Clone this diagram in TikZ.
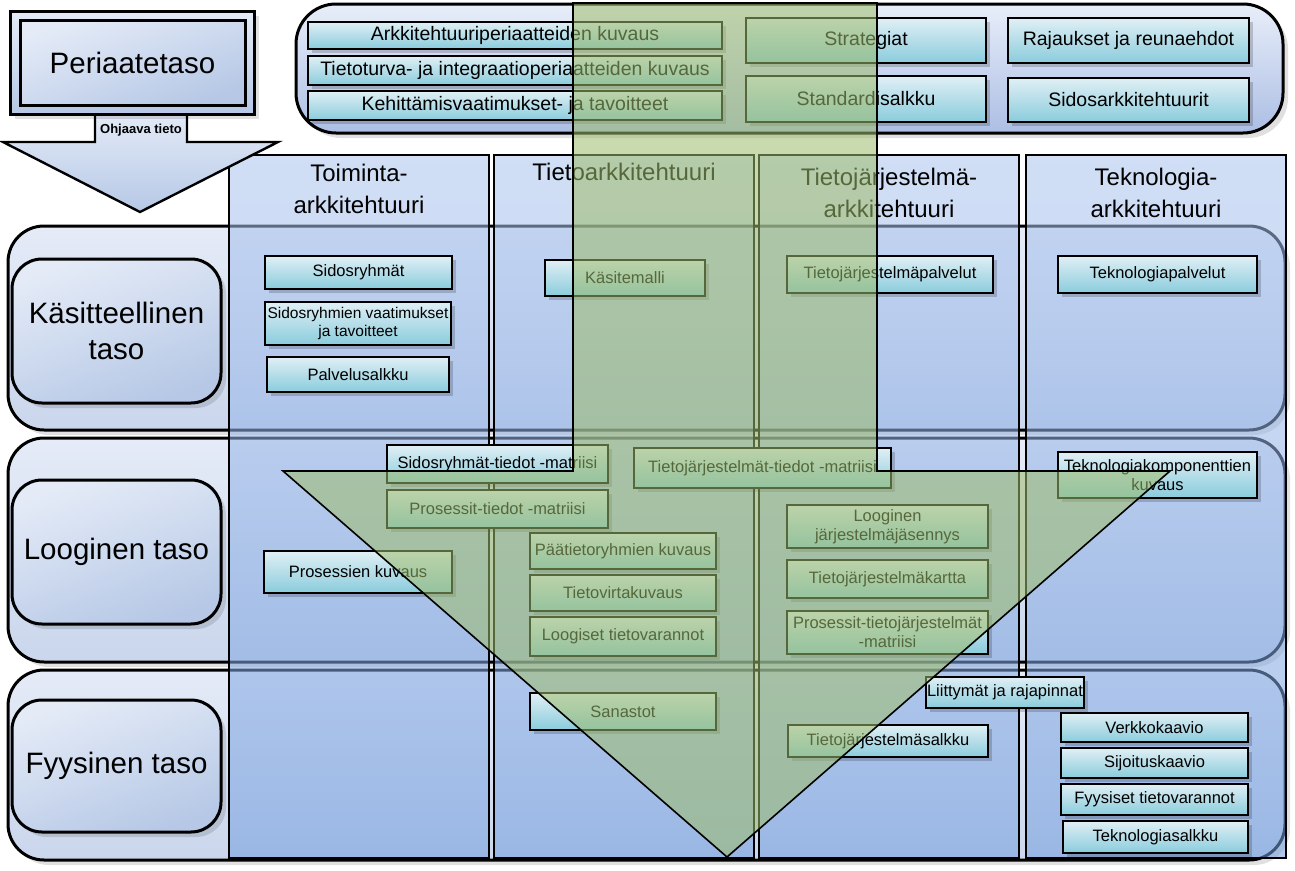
\documentclass[tikz,border=0pt]{standalone}
\usepackage{fontspec}
\setmainfont{Liberation Sans}
\usetikzlibrary{shadows}
\definecolor{bandT}{RGB}{229,235,247}
\definecolor{bandB}{RGB}{202,214,236}
\definecolor{colT}{RGB}{172,196,238}
\definecolor{colB}{RGB}{115,158,222}
\definecolor{cyT}{RGB}{224,239,245}
\definecolor{cyB}{RGB}{138,204,220}
\definecolor{lblT}{RGB}{228,235,247}
\definecolor{lblB}{RGB}{182,200,230}
\definecolor{topT}{RGB}{232,238,249}
\definecolor{topB}{RGB}{172,190,228}
\definecolor{grn}{RGB}{158,188,108}
\tikzset{
  cbox/.style={draw=black, line width=2.6pt, top color=cyT, bottom color=cyB,
    drop shadow={shadow xshift=4pt, shadow yshift=-4pt, opacity=0.18, fill=black},
    align=center, inner sep=1pt, font=\fontsize{16.5}{19}\selectfont},
  tbox/.style={cbox, font=\fontsize{19.5}{22}\selectfont},
  band/.style={draw=black, line width=3pt, rounded corners=36pt, top color=bandT, bottom color=bandB,
    drop shadow={shadow xshift=5pt, shadow yshift=-5pt, opacity=0.12, fill=black}},
  lbl/.style={draw=black, line width=3pt, rounded corners=30pt, top color=lblT, bottom color=lblB,
    shading angle=20, align=center,
    drop shadow={shadow xshift=5pt, shadow yshift=-5pt, opacity=0.12, fill=black},
    font=\fontsize{29.5}{36}\selectfont},
  colrect/.style={draw=black, line width=2.6pt, top color=colT, bottom color=colB, fill opacity=0.55, draw opacity=1},
  hdr/.style={align=center, font=\fontsize{24}{32}\selectfont},
  garrow/.style={draw=black, line width=1.6pt, fill=grn, fill opacity=0.55, draw opacity=1},
  barrow/.style={draw=black, line width=2.4pt, top color=lblT, bottom color=lblB},
}
\newcommand\abox[7][cbox]{\node[#1,minimum width={(#5-#3)*1pt},minimum height={(#6-#4)*1pt}] (#2) at ({(#3+#5)/2},{(#4+#6)/2}) {#7};}
\begin{document}
\begin{tikzpicture}[x=1pt,y=-1pt]
\useasboundingbox (0,0) rectangle (1295,870);
\fill[white] (0,0) rectangle (1295,870);

% top band
\path[draw=black, line width=3pt, rounded corners=40pt, top color=topT, bottom color=topB,
  drop shadow={shadow xshift=5pt, shadow yshift=-5pt, opacity=0.12, fill=black}] (296,4) rectangle (1283,133);
\abox[tbox]{p1}{308}{22}{722}{49}{Arkkitehtuuriperiaatteiden kuvaus}
\abox[tbox]{p2}{308}{56}{722}{85}{Tietoturva- ja integraatioperiaatteiden kuvaus}
\abox[tbox]{p3}{308}{91}{722}{120}{Kehittämisvaatimukset- ja tavoitteet}
\abox[tbox]{p4}{746}{18}{986}{63}{Strategiat}
\abox[tbox]{p5}{746}{76}{986}{122}{Standardisalkku}
\abox[tbox]{p6}{1008}{18}{1249}{63}{Rajaukset ja reunaehdot}
\abox[tbox]{p7}{1008}{78}{1249}{122}{Sidosarkkitehtuurit}

% row bands
\path[band] (8,226) rectangle (1285,430);
\path[band] (8,438) rectangle (1285,662);
\path[band] (8,670) rectangle (1285,860);
\abox[lbl]{r1}{12}{259}{221}{403}{Käsitteellinen\\taso}
\abox[lbl]{r2}{12}{480}{221}{624}{Looginen taso}
\abox[lbl]{r3}{12}{700}{221}{832}{Fyysinen taso}

% columns
\path[colrect] (229,155) rectangle (489,858);
\path[colrect] (494,155) rectangle (754,858);
\path[colrect] (759,155) rectangle (1019,858);
\path[colrect] (1026,155) rectangle (1286,858);
\node[hdr] (h1) at (359,189) {Toiminta-\\arkkitehtuuri};
\node[hdr] (h2) at (624,172) {Tietoarkkitehtuuri};
\node[hdr] (h3) at (889,193) {Tietojärjestelmä-\\arkkitehtuuri};
\node[hdr] (h4) at (1156,193) {Teknologia-\\arkkitehtuuri};

% guiding arrow and principle level
\path[barrow] (95,112) -- (95,142) -- (3,142) -- (140,212) -- (278,142) -- (187,142) -- (187,112) -- cycle;
\node[font=\bfseries\fontsize{13}{15}\selectfont] (oh) at (141,130) {Ohjaava tieto};
\path[draw=black, line width=3pt, top color=lblT, bottom color=lblB,
  drop shadow={shadow xshift=5pt, shadow yshift=-5pt, opacity=0.12, fill=black}] (10,11) rectangle (254,114);
\node[draw=black, line width=3pt, minimum width=225pt, minimum height=85pt,
  top color=lblT, bottom color=lblB, shading angle=20, font=\fontsize{29.5}{34}\selectfont] (pt) at (132.5,62.5) {Periaatetaso};

% conceptual
\abox{k1}{265}{256}{452}{289}{Sidosryhmät}
\abox[cbox,font=\fontsize{15.5}{18}\selectfont]{k2}{265}{302}{451}{345}{Sidosryhmien vaatimukset\\ja tavoitteet}
\abox{k3}{267}{357}{449}{392}{Palvelusalkku}
\abox{k4}{545}{260}{705}{296}{Käsitemalli}
\abox{k5}{787}{256}{993}{293}{Tietojärjestelmäpalvelut}
\abox{k6}{1058}{256}{1257}{293}{Teknologiapalvelut}

% logical
\abox{l1}{387}{445}{608}{483}{Sidosryhmät-tiedot -matriisi}
\abox{l2}{387}{490}{608}{528}{Prosessit-tiedot -matriisi}
\abox{l3}{634}{448}{891}{488}{Tietojärjestelmät-tiedot -matriisi}
\abox{l4}{1058}{452}{1257}{498}{Teknologiakomponenttien\\kuvaus}
\abox{l5}{264}{551}{452}{593}{Prosessien kuvaus}
\abox{l6}{530}{533}{716}{569}{Päätietoryhmien kuvaus}
\abox{l7}{530}{575}{716}{611}{Tietovirtakuvaus}
\abox{l8}{530}{617}{716}{656}{Loogiset tietovarannot}
\abox{l9}{787}{505}{988}{548}{Looginen\\järjestelmäjäsennys}
\abox{l10}{787}{560}{988}{598}{Tietojärjestelmäkartta}
\abox{l11}{787}{611}{988}{654}{Prosessit-tietojärjestelmät\\-matriisi}

% physical
\abox{f1}{926}{677}{1084}{708}{Liittymät ja rajapinnat}
\abox{f2}{530}{693}{716}{730}{Sanastot}
\abox{f3}{788}{725}{988}{757}{Tietojärjestelmäsalkku}
\abox{f4}{1061}{713}{1248}{742}{Verkkokaavio}
\abox{f5}{1061}{748}{1248}{778}{Sijoituskaavio}
\abox{f6}{1061}{784}{1248}{815}{Fyysiset tietovarannot}
\abox{f7}{1063}{821}{1248}{853}{Teknologiasalkku}

% big green arrow
\path[garrow] (573,3) -- (877,3) -- (877,471) -- (1170,471) -- (727,857) -- (283,471) -- (573,471) -- cycle;
\end{tikzpicture}
\end{document}
